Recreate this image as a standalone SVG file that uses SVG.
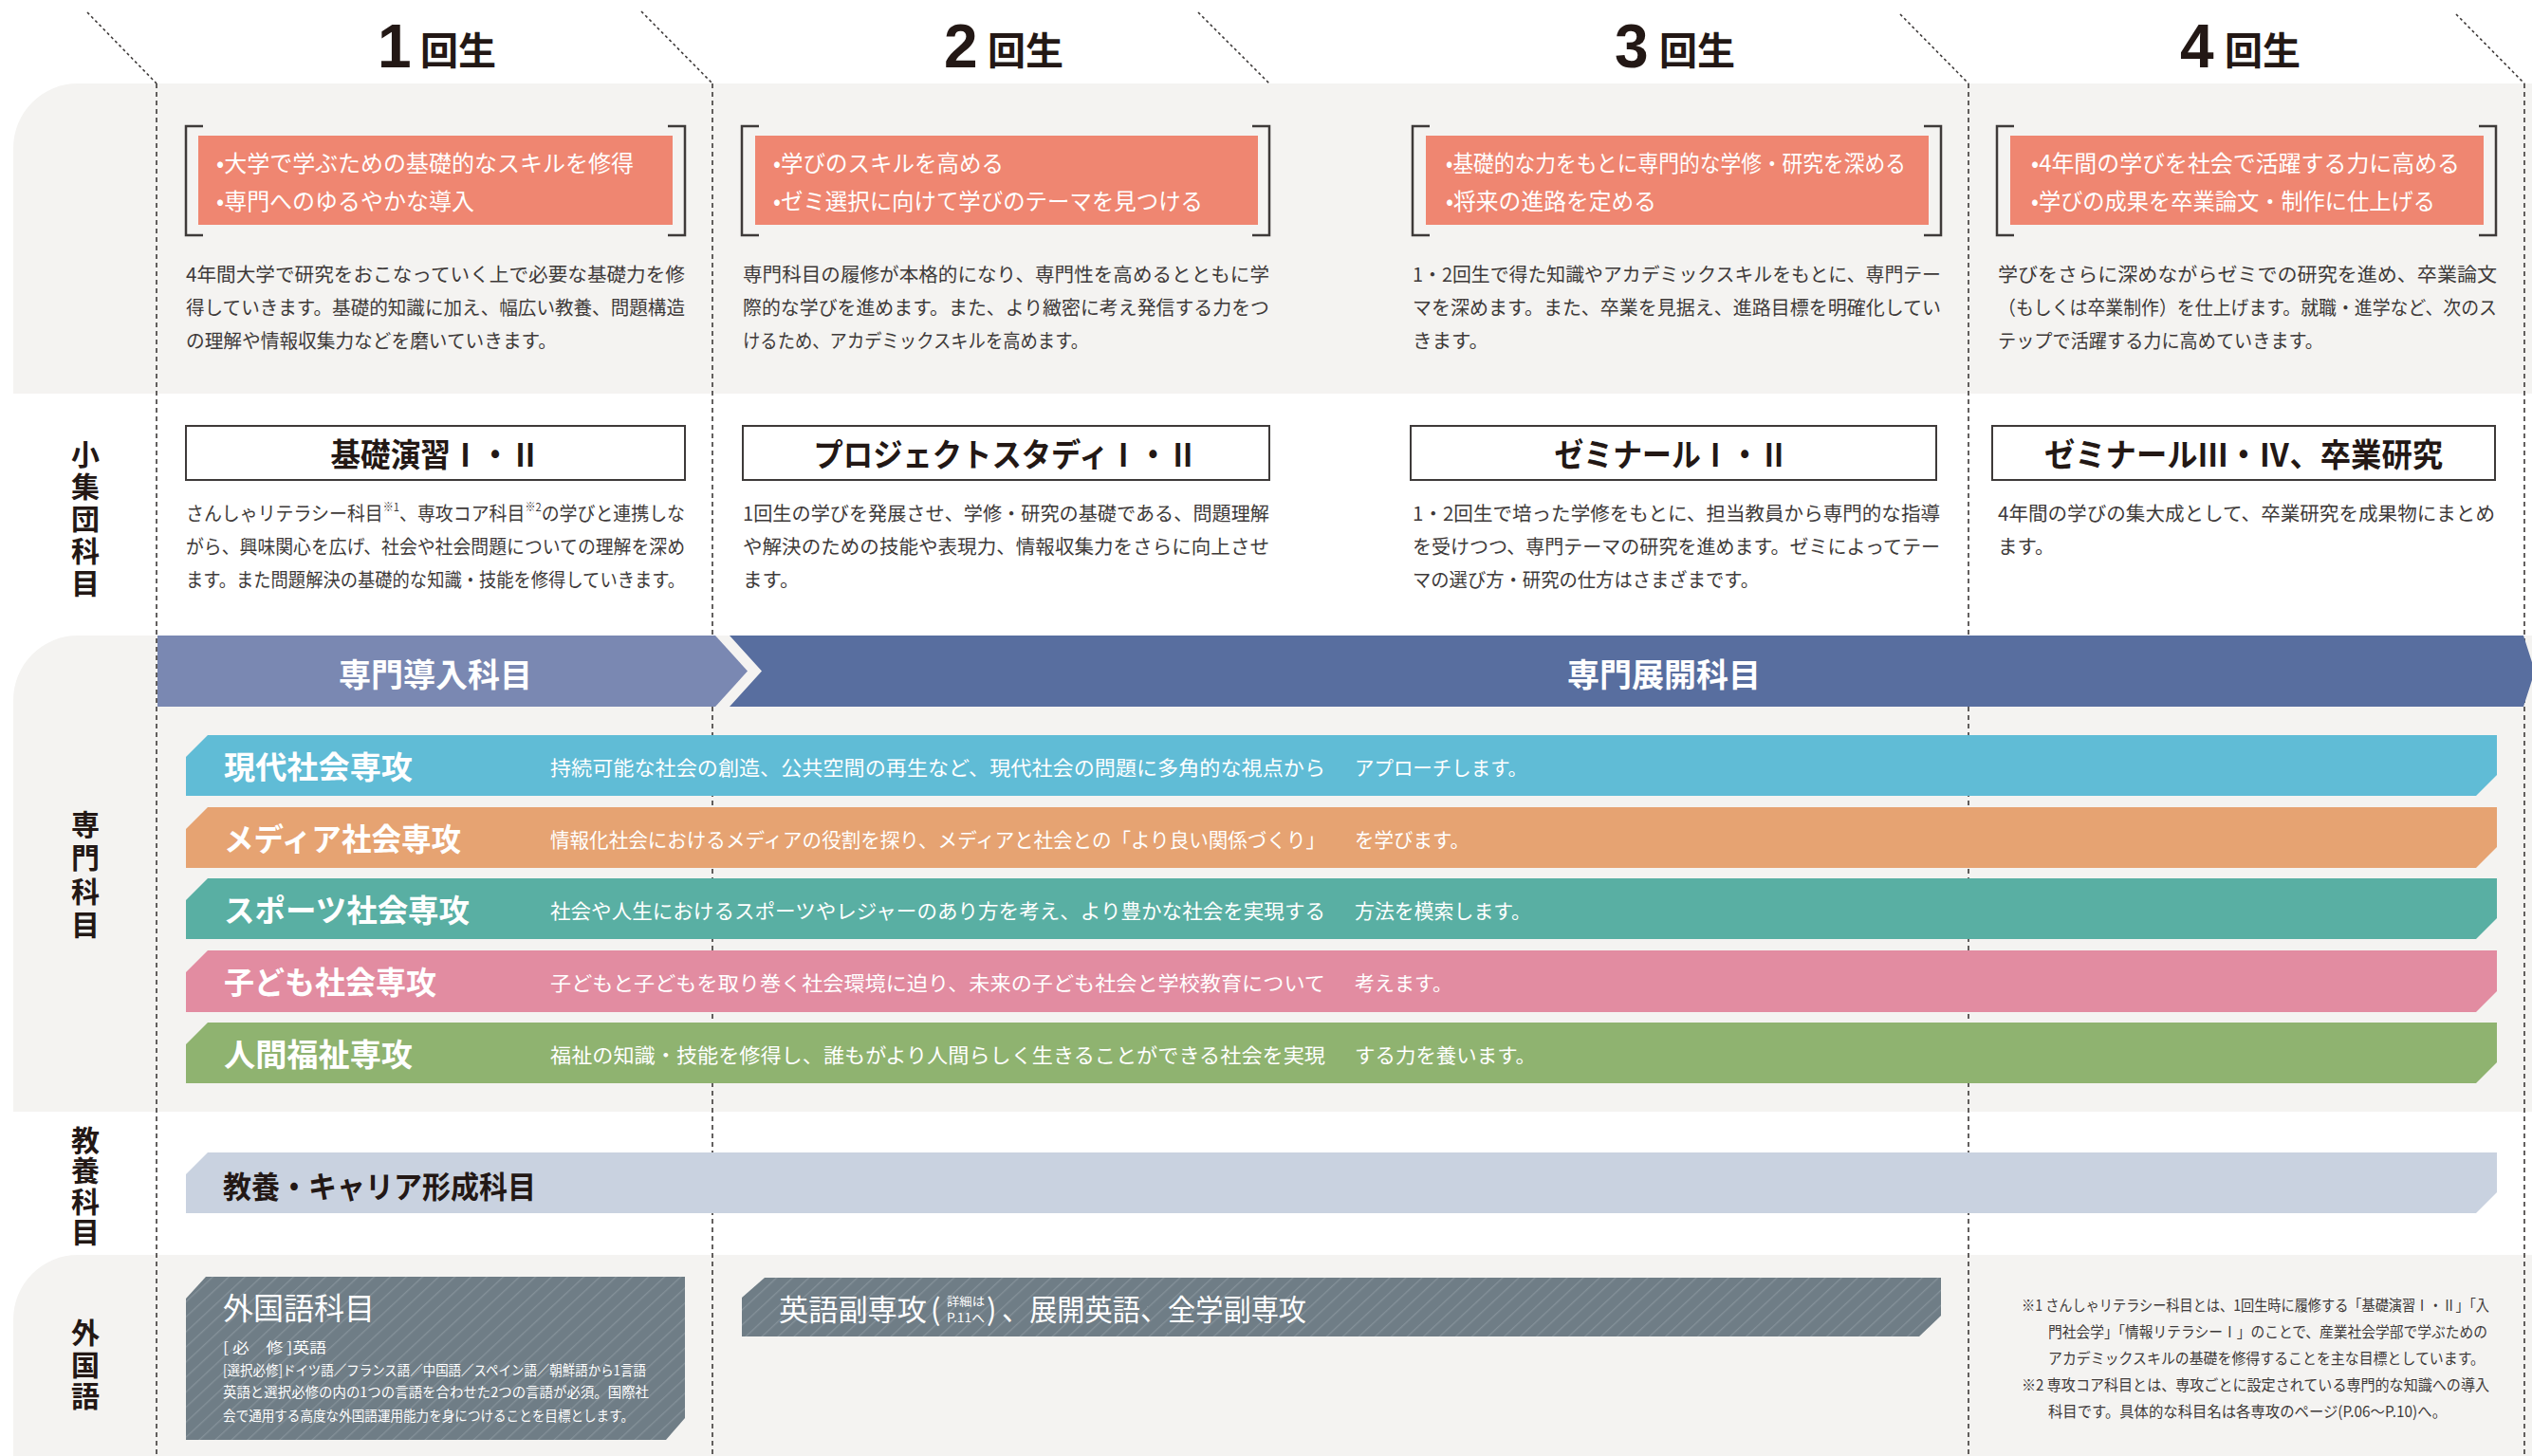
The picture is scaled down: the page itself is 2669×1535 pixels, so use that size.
<svg xmlns="http://www.w3.org/2000/svg" width="2669" height="1535" viewBox="0 0 2669 1535">
<defs>
<style>
text{font-family:"Noto Sans CJK JP","Noto Sans",sans-serif;dominant-baseline:central}
.bg{fill:#f4f3f1}
.dash{stroke:#3e3a39;stroke-width:1.6;stroke-dasharray:5 4;fill:none}
.diag{stroke:#3e3a39;stroke-width:1.6;stroke-dasharray:3 3;fill:none}
.yr{font-family:"Liberation Sans",sans-serif;font-weight:700;font-size:64px;fill:#231815;dominant-baseline:auto}
.yrk{font-size:40px;font-weight:700;fill:#231815}
.brk{fill:none;stroke:#3e3a39;stroke-width:2.5}
.org{fill:#ef8671}
.ot{font-size:24px;fill:#fff}
.desc{font-size:20.5px;fill:#3e3a39}
.tbox{fill:#fff;stroke:#3e3a39;stroke-width:2}
.ttl{font-size:34px;font-weight:700;fill:#231815;text-anchor:middle}
.lbl{font-size:30px;font-weight:700;fill:#231815;text-anchor:middle}
.bandt{font-size:34px;font-weight:700;fill:#fff;text-anchor:middle}
.bt{font-size:33px;font-weight:700;fill:#fff}
.bd{font-size:21px;fill:#fff}
.sm{font-size:14.5px;fill:#fff}
.fn{font-size:16px;fill:#3e3a39}
</style>
<pattern id="hatch" patternUnits="userSpaceOnUse" width="20" height="11.6" patternTransform="rotate(-43)">
<rect width="20" height="11.6" fill="#6f7d86"/>
<line x1="0" y1="0.7" x2="20" y2="0.7" stroke="#86939b" stroke-width="1.2"/>
</pattern>
</defs>

<!-- background bands -->
<g id="backgrounds">
<rect width="2669" height="1535" fill="#fff"/>
<path class="bg" d="M14,415 V156 A68,68 0 0 1 82,88 H2669 V415 Z"/>
<path class="bg" d="M14,1172 V738 A68,68 0 0 1 82,670 H2669 V1172 Z"/>
<path class="bg" d="M14,1535 V1391 A68,68 0 0 1 82,1323 H2669 V1535 Z"/>
</g>

<!-- grid lines -->
<g id="connectors">
<line class="diag" x1="92" y1="13" x2="165" y2="88"/>
<line class="diag" x1="676" y1="12" x2="751" y2="88"/>
<line class="diag" x1="1263" y1="13" x2="1338" y2="88"/>
<line class="diag" x1="2003" y1="15" x2="2075" y2="88"/>
<line class="diag" x1="2589" y1="15" x2="2661" y2="88"/>
<line class="dash" x1="165" y1="88" x2="165" y2="1535"/>
<line class="dash" x1="751" y1="88" x2="751" y2="1535"/>
<line class="dash" x1="2075" y1="88" x2="2075" y2="1535"/>
<line class="dash" x1="2661" y1="88" x2="2661" y2="1535"/>
</g>

<!-- year headers -->
<g id="year1"><text class="yr" x="398" y="71">1</text><text class="yrk" x="443" y="51">回生</text></g>
<g id="year2"><text class="yr" x="995" y="71">2</text><text class="yrk" x="1041" y="51">回生</text></g>
<g id="year3"><text class="yr" x="1702" y="71">3</text><text class="yrk" x="1749" y="51">回生</text></g>
<g id="year4"><text class="yr" x="2298" y="71">4</text><text class="yrk" x="2345" y="51">回生</text></g>

<!-- goals per year -->
<g id="goal1">
<path class="brk" d="M214,133 H196 V248 H214 M704,133 H722 V248 H704"/>
<rect class="org" x="209" y="143" width="500" height="94"/>
<text class="ot" x="228" y="170" textLength="440" lengthAdjust="spacingAndGlyphs">•大学で学ぶための基礎的なスキルを修得</text>
<text class="ot" x="228" y="210" textLength="272" lengthAdjust="spacingAndGlyphs">•専門へのゆるやかな導入</text>
<text class="desc" x="196" y="288" textLength="526" lengthAdjust="spacingAndGlyphs">4年間大学で研究をおこなっていく上で必要な基礎力を修</text>
<text class="desc" x="196" y="323" textLength="526" lengthAdjust="spacingAndGlyphs">得していきます。基礎的知識に加え、幅広い教養、問題構造</text>
<text class="desc" x="196" y="358" textLength="391" lengthAdjust="spacingAndGlyphs">の理解や情報収集力などを磨いていきます。</text>
</g>
<g id="goal2">
<path class="brk" d="M800,133 H782 V248 H800 M1320,133 H1338 V248 H1320"/>
<rect class="org" x="796" y="143" width="530" height="94"/>
<text class="ot" x="815" y="170" textLength="243" lengthAdjust="spacingAndGlyphs">•学びのスキルを高める</text>
<text class="ot" x="815" y="210" textLength="453" lengthAdjust="spacingAndGlyphs">•ゼミ選択に向けて学びのテーマを見つける</text>
<text class="desc" x="783" y="288" textLength="555" lengthAdjust="spacingAndGlyphs">専門科目の履修が本格的になり、専門性を高めるとともに学</text>
<text class="desc" x="783" y="323" textLength="555" lengthAdjust="spacingAndGlyphs">際的な学びを進めます。また、より緻密に考え発信する力をつ</text>
<text class="desc" x="783" y="358" textLength="364" lengthAdjust="spacingAndGlyphs">けるため、アカデミックスキルを高めます。</text>
</g>
<g id="goal3">
<path class="brk" d="M1507,133 H1489 V248 H1507 M2028,133 H2046 V248 H2028"/>
<rect class="org" x="1503" y="143" width="530" height="94"/>
<text class="ot" x="1524" y="170" textLength="485" lengthAdjust="spacingAndGlyphs">•基礎的な力をもとに専門的な学修・研究を深める</text>
<text class="ot" x="1524" y="210" textLength="222" lengthAdjust="spacingAndGlyphs">•将来の進路を定める</text>
<text class="desc" x="1489" y="288" textLength="557" lengthAdjust="spacingAndGlyphs">1・2回生で得た知識やアカデミックスキルをもとに、専門テー</text>
<text class="desc" x="1489" y="323" textLength="557" lengthAdjust="spacingAndGlyphs">マを深めます。また、卒業を見据え、進路目標を明確化してい</text>
<text class="desc" x="1489" y="358">きます。</text>
</g>
<g id="goal4">
<path class="brk" d="M2123,133 H2105 V248 H2123 M2613,133 H2631 V248 H2613"/>
<rect class="org" x="2119" y="143" width="499" height="94"/>
<text class="ot" x="2141" y="170" textLength="452" lengthAdjust="spacingAndGlyphs">•4年間の学びを社会で活躍する力に高める</text>
<text class="ot" x="2141" y="210" textLength="426" lengthAdjust="spacingAndGlyphs">•学びの成果を卒業論文・制作に仕上げる</text>
<text class="desc" x="2106" y="288" textLength="526" lengthAdjust="spacingAndGlyphs">学びをさらに深めながらゼミでの研究を進め、卒業論文</text>
<text class="desc" x="2106" y="323" textLength="526" lengthAdjust="spacingAndGlyphs">（もしくは卒業制作）を仕上げます。就職・進学など、次のス</text>
<text class="desc" x="2106" y="358" textLength="343" lengthAdjust="spacingAndGlyphs">テップで活躍する力に高めていきます。</text>
</g>

<!-- row labels -->
<g id="label-small">
<text class="lbl"><tspan x="90" y="477">小</tspan><tspan x="90" y="511">集</tspan><tspan x="90" y="545">団</tspan><tspan x="90" y="579">科</tspan><tspan x="90" y="613">目</tspan></text>
</g>
<g id="label-major">
<text class="lbl"><tspan x="90" y="867">専</tspan><tspan x="90" y="902">門</tspan><tspan x="90" y="938">科</tspan><tspan x="90" y="973">目</tspan></text>
</g>
<g id="label-liberal">
<text class="lbl"><tspan x="90" y="1200">教</tspan><tspan x="90" y="1232">養</tspan><tspan x="90" y="1265">科</tspan><tspan x="90" y="1297">目</tspan></text>
</g>
<g id="label-lang">
<text class="lbl"><tspan x="90" y="1403">外</tspan><tspan x="90" y="1437">国</tspan><tspan x="90" y="1470">語</tspan></text>
</g>

<!-- small group subjects -->
<g id="seminar1">
<rect class="tbox" x="196" y="449" width="526" height="57"/>
<text class="ttl" x="459" y="477" textLength="221" lengthAdjust="spacingAndGlyphs">基礎演習Ⅰ・Ⅱ</text>
<text class="desc" x="196" y="540" textLength="526" lengthAdjust="spacingAndGlyphs">さんしゃリテラシー科目<tspan font-size="12" dy="-7">※1</tspan><tspan dy="7">、専攻コア科目</tspan><tspan font-size="12" dy="-7">※2</tspan><tspan dy="7">の学びと連携しな</tspan></text>
<text class="desc" x="196" y="575" textLength="526" lengthAdjust="spacingAndGlyphs">がら、興味関心を広げ、社会や社会問題についての理解を深め</text>
<text class="desc" x="196" y="610" textLength="526" lengthAdjust="spacingAndGlyphs">ます。また問題解決の基礎的な知識・技能を修得していきます。</text>
</g>
<g id="seminar2">
<rect class="tbox" x="783" y="449" width="555" height="57"/>
<text class="ttl" x="1060" y="477" textLength="405" lengthAdjust="spacingAndGlyphs">プロジェクトスタディⅠ・Ⅱ</text>
<text class="desc" x="783" y="540" textLength="555" lengthAdjust="spacingAndGlyphs">1回生の学びを発展させ、学修・研究の基礎である、問題理解</text>
<text class="desc" x="783" y="575" textLength="555" lengthAdjust="spacingAndGlyphs">や解決のための技能や表現力、情報収集力をさらに向上させ</text>
<text class="desc" x="783" y="610">ます。</text>
</g>
<g id="seminar3">
<rect class="tbox" x="1487" y="449" width="554" height="57"/>
<text class="ttl" x="1762" y="477" textLength="247" lengthAdjust="spacingAndGlyphs">ゼミナールⅠ・Ⅱ</text>
<text class="desc" x="1489" y="540" textLength="556" lengthAdjust="spacingAndGlyphs">1・2回生で培った学修をもとに、担当教員から専門的な指導</text>
<text class="desc" x="1489" y="575" textLength="556" lengthAdjust="spacingAndGlyphs">を受けつつ、専門テーマの研究を進めます。ゼミによってテー</text>
<text class="desc" x="1489" y="610" textLength="365" lengthAdjust="spacingAndGlyphs">マの選び方・研究の仕方はさまざまです。</text>
</g>
<g id="seminar4">
<rect class="tbox" x="2100" y="449" width="530" height="57"/>
<text class="ttl" x="2365" y="477" textLength="420" lengthAdjust="spacingAndGlyphs">ゼミナールⅢ・Ⅳ、卒業研究</text>
<text class="desc" x="2106" y="540" textLength="524" lengthAdjust="spacingAndGlyphs">4年間の学びの集大成として、卒業研究を成果物にまとめ</text>
<text class="desc" x="2106" y="575">ます。</text>
</g>

<!-- specialised band -->
<g id="intro-band">
<path fill="#7a88b2" d="M166,670 H754 L788,707.5 L754,745 H166 Z"/>
<text class="bandt" x="459" y="709">専門導入科目</text>
</g>
<g id="advanced-band">
<path fill="#586e9f" d="M769,670 H2660 L2672,707.5 L2660,745 H769 L803,707.5 Z"/>
<text class="bandt" x="1754" y="709">専門展開科目</text>
</g>

<!-- majors -->
<g id="major-gendai">
<path fill="#60bcd6" d="M219,775 H2632 V817 L2610,839 H196 V798 Z"/>
<text class="bt" x="236" y="807" textLength="199" lengthAdjust="spacingAndGlyphs">現代社会専攻</text>
<text class="bd" x="580" y="808" textLength="817" lengthAdjust="spacingAndGlyphs">持続可能な社会の創造、公共空間の再生など、現代社会の問題に多角的な視点から</text>
<text class="bd" x="1428" y="808" textLength="182" lengthAdjust="spacingAndGlyphs">アプローチします。</text>
</g>
<g id="major-media">
<path fill="#e6a372" d="M219,851 H2632 V893 L2610,915 H196 V874 Z"/>
<text class="bt" x="236" y="883" textLength="250" lengthAdjust="spacingAndGlyphs">メディア社会専攻</text>
<text class="bd" x="580" y="884" textLength="817" lengthAdjust="spacingAndGlyphs">情報化社会におけるメディアの役割を探り、メディアと社会との「より良い関係づくり」</text>
<text class="bd" x="1428" y="884" textLength="121" lengthAdjust="spacingAndGlyphs">を学びます。</text>
</g>
<g id="major-sports">
<path fill="#59afa3" d="M219,926 H2632 V968 L2610,990 H196 V949 Z"/>
<text class="bt" x="236" y="958" textLength="259" lengthAdjust="spacingAndGlyphs">スポーツ社会専攻</text>
<text class="bd" x="580" y="959" textLength="817" lengthAdjust="spacingAndGlyphs">社会や人生におけるスポーツやレジャーのあり方を考え、より豊かな社会を実現する</text>
<text class="bd" x="1428" y="959" textLength="186" lengthAdjust="spacingAndGlyphs">方法を模索します。</text>
</g>
<g id="major-kodomo">
<path fill="#e28ca1" d="M219,1002 H2632 V1045 L2610,1067 H196 V1025 Z"/>
<text class="bt" x="236" y="1034" textLength="224" lengthAdjust="spacingAndGlyphs">子ども社会専攻</text>
<text class="bd" x="580" y="1035" textLength="817" lengthAdjust="spacingAndGlyphs">子どもと子どもを取り巻く社会環境に迫り、未来の子ども社会と学校教育について</text>
<text class="bd" x="1428" y="1035" textLength="103" lengthAdjust="spacingAndGlyphs">考えます。</text>
</g>
<g id="major-fukushi">
<path fill="#8fb370" d="M219,1078 H2632 V1120 L2610,1142 H196 V1101 Z"/>
<text class="bt" x="236" y="1110" textLength="199" lengthAdjust="spacingAndGlyphs">人間福祉専攻</text>
<text class="bd" x="580" y="1111" textLength="817" lengthAdjust="spacingAndGlyphs">福祉の知識・技能を修得し、誰もがより人間らしく生きることができる社会を実現</text>
<text class="bd" x="1428" y="1111" textLength="191" lengthAdjust="spacingAndGlyphs">する力を養います。</text>
</g>

<!-- liberal arts -->
<g id="liberal-arts">
<path fill="#c9d2e0" d="M219,1215 H2632 V1257 L2610,1279 H196 V1238 Z"/>
<text x="235" y="1249" font-size="32" font-weight="700" fill="#231815" textLength="330" lengthAdjust="spacingAndGlyphs">教養・キャリア形成科目</text>
</g>

<!-- languages -->
<g id="foreign-lang">
<path fill="url(#hatch)" d="M217,1346 H722 V1495 L702,1518 H196 V1369 Z"/>
<text x="235" y="1377" font-size="32" fill="#fff" textLength="160" lengthAdjust="spacingAndGlyphs">外国語科目</text>
<text class="sm" x="235" y="1419" textLength="109" lengthAdjust="spacingAndGlyphs">[ 必　修 ]英語</text>
<text class="sm" x="235" y="1443" textLength="446" lengthAdjust="spacingAndGlyphs">[選択必修]ドイツ語／フランス語／中国語／スペイン語／朝鮮語から1言語</text>
<text class="sm" x="235" y="1466" textLength="449" lengthAdjust="spacingAndGlyphs">英語と選択必修の内の1つの言語を合わせた2つの言語が必須。国際社</text>
<text class="sm" x="235" y="1491" textLength="433" lengthAdjust="spacingAndGlyphs">会で通用する高度な外国語運用能力を身につけることを目標とします。</text>
</g>
<g id="english-minor">
<path fill="url(#hatch)" d="M806,1347 H2046 V1387 L2023,1409 H782 V1368 Z"/>
<text x="821" y="1378" font-size="31" fill="#fff" textLength="156" lengthAdjust="spacingAndGlyphs">英語副専攻</text>
<text x="981" y="1378" font-size="31" fill="#fff">(</text>
<text x="998" y="1371" font-size="12" fill="#fff" textLength="40" lengthAdjust="spacingAndGlyphs">詳細は</text>
<text x="998" y="1388" font-size="13" fill="#fff" textLength="40" lengthAdjust="spacingAndGlyphs">P.11へ</text>
<text x="1040" y="1378" font-size="31" fill="#fff">)</text>
<text x="1056" y="1378" font-size="31" fill="#fff" textLength="321" lengthAdjust="spacingAndGlyphs">、展開英語、全学副専攻</text>
</g>

<!-- footnotes -->
<g id="footnotes">
<text class="fn" x="2131" y="1375" textLength="493" lengthAdjust="spacingAndGlyphs">※1 さんしゃリテラシー科目とは、1回生時に履修する「基礎演習Ⅰ・Ⅱ」「入</text>
<text class="fn" x="2159" y="1403" textLength="463" lengthAdjust="spacingAndGlyphs">門社会学」「情報リテラシーⅠ」のことで、産業社会学部で学ぶための</text>
<text class="fn" x="2159" y="1431" textLength="460" lengthAdjust="spacingAndGlyphs">アカデミックスキルの基礎を修得することを主な目標としています。</text>
<text class="fn" x="2131" y="1459" textLength="493" lengthAdjust="spacingAndGlyphs">※2 専攻コア科目とは、専攻ごとに設定されている専門的な知識への導入</text>
<text class="fn" x="2159" y="1487" textLength="420" lengthAdjust="spacingAndGlyphs">科目です。具体的な科目名は各専攻のページ(P.06〜P.10)へ。</text>
</g>
</svg>
